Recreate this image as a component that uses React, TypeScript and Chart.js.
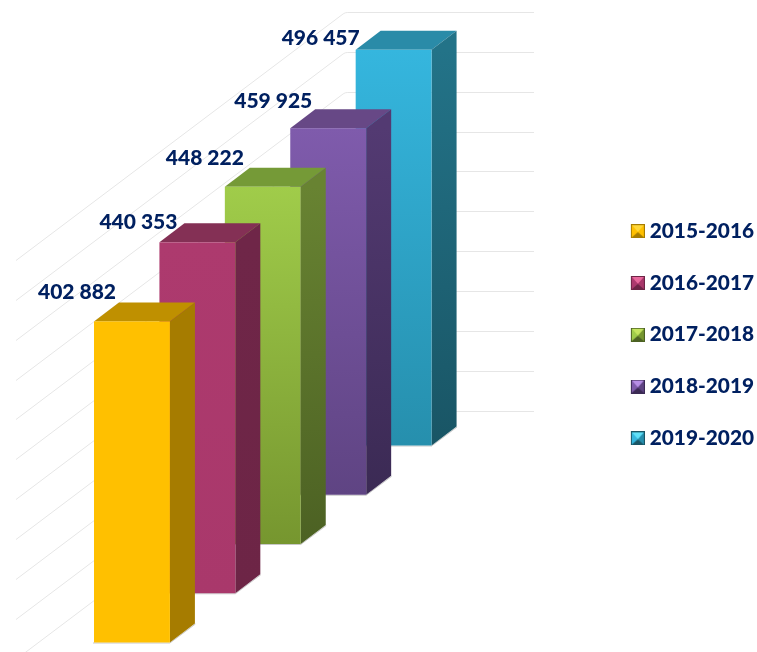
import React, { useEffect, useRef } from "react";
import { Chart, registerables } from "chart.js";

Chart.register(...registerables);

const seasons = ["2015-2016", "2016-2017", "2017-2018", "2018-2019", "2019-2020"];
const students = [402882, 440353, 448222, 459925, 496457];
const valueLabels = ["402 882", "440 353", "448 222", "459 925", "496 457"];
const categories = [""];
const gridValues = [0, 50000, 100000, 150000, 200000, 250000, 300000, 350000, 400000, 450000, 500000];

const frontTop = ["#FFC000", "#AD3A6E", "#A0CC4A", "#7F5BAC", "#35B6DE"];
const frontBottom = ["#FFC000", "#A9386B", "#76962F", "#5F4483", "#268FAD"];
const topFace = ["#BF9000", "#843055", "#759A37", "#674886", "#2A8BA8"];
const sideTop = ["#A67C00", "#6F2648", "#688332", "#533A72", "#237388"];
const sideBottom = ["#A67C00", "#6D2546", "#4C6123", "#3B2A54", "#195565"];
const iconLight = ["#FFD83A", "#E8689C", "#C4E45E", "#B78EE6", "#5FE0F8"];

const TEXT = "#002060";
const FONT = "Lato";
const SERIES_STEP = { x: 65.5, y: 49.25 };
const DEPTH = { x: 25, y: 19 };
const WALL = { cornerX: 345, rightX: 534, drop: 232, clipLeft: 16, clipBottom: 652 };
const LABEL_OFFSET = [
  [-17, -29],
  [-21, -20],
  [-20, -29],
  [-17, -27],
  [-35, -12],
];

function makeIcon(i: number) {
  const c = document.createElement("canvas");
  c.width = 20;
  c.height = 14;
  const g = c.getContext("2d")!;
  const x0 = 6, x1 = 20, y0 = 0, y1 = 14, cx = 13, cy = 7;
  const tri = (ax: number, ay: number, bx: number, by: number, col: string) => {
    g.fillStyle = col;
    g.beginPath();
    g.moveTo(ax, ay);
    g.lineTo(bx, by);
    g.lineTo(cx, cy + 1);
    g.closePath();
    g.fill();
  };
  g.fillStyle = frontTop[i];
  g.fillRect(x0, y0, 14, 14);
  tri(x0, y0, x1, y0, iconLight[i]);
  tri(x0, y0, x0, y1, frontTop[i]);
  tri(x1, y0, x1, y1, frontBottom[i]);
  tri(x0, y1, x1, y1, sideBottom[i]);
  g.strokeStyle = sideBottom[i];
  g.lineWidth = 1;
  g.strokeRect(x0 + 0.5, y0 + 0.5, 13, 13);
  return c;
}

const prism3d = {
  id: "prism3d",
  beforeDatasetsDraw(chart: any) {
    const { ctx, scales } = chart;

    ctx.save();
    ctx.beginPath();
    ctx.rect(WALL.clipLeft, 0, WALL.rightX, WALL.clipBottom);
    ctx.clip();
    ctx.strokeStyle = "#E6E6E6";
    ctx.lineWidth = 1;
    const slope = 248 / (WALL.cornerX - WALL.clipLeft);
    for (const tick of scales.y.ticks) {
      const wy = Math.round(scales.y.getPixelForValue(tick.value) - WALL.drop) + 0.5;
      const run = 400;
      ctx.beginPath();
      ctx.moveTo(WALL.cornerX - run, wy + run * slope);
      ctx.arcTo(WALL.cornerX, wy, WALL.rightX, wy, 7);
      ctx.lineTo(WALL.rightX, wy);
      ctx.stroke();
    }
    ctx.restore();

    for (let i = seasons.length - 1; i >= 0; i--) {
      const el = chart.getDatasetMeta(i).data[0];
      const shift = SERIES_STEP.y * i;
      const l = el.x - el.width / 2;
      const r = el.x + el.width / 2;
      const t = el.y - shift;
      const b = el.base - shift;
      const rr = r + DEPTH.x;

      const fg = ctx.createLinearGradient(0, t, 0, b);
      fg.addColorStop(0, frontTop[i]);
      fg.addColorStop(1, frontBottom[i]);
      const sg = ctx.createLinearGradient(0, t, 0, b);
      sg.addColorStop(0, sideTop[i]);
      sg.addColorStop(1, sideBottom[i]);

      // soft floor shadow
      ctx.strokeStyle = "rgba(0,0,0,0.22)";
      ctx.lineWidth = 1;
      ctx.beginPath();
      ctx.moveTo(l - 1, b + 0.5);
      ctx.lineTo(r, b + 0.5);
      ctx.lineTo(rr + 0.5, b - DEPTH.y + 0.5);
      ctx.stroke();

      ctx.fillStyle = topFace[i];
      ctx.beginPath();
      ctx.moveTo(l, t);
      ctx.lineTo(l + DEPTH.x, t - DEPTH.y);
      ctx.lineTo(rr, t - DEPTH.y);
      ctx.lineTo(r, t);
      ctx.closePath();
      ctx.fill();

      ctx.fillStyle = sg;
      ctx.beginPath();
      ctx.moveTo(r, t);
      ctx.lineTo(rr, t - DEPTH.y);
      ctx.lineTo(rr, b - DEPTH.y);
      ctx.lineTo(r, b);
      ctx.closePath();
      ctx.fill();

      ctx.fillStyle = fg;
      ctx.fillRect(l, t, r - l, b - t);
    }

    ctx.fillStyle = TEXT;
    ctx.font = `900 21px ${FONT}`;
    ctx.textAlign = "center";
    ctx.textBaseline = "middle";
    for (let i = 0; i < seasons.length; i++) {
      const el = chart.getDatasetMeta(i).data[0];
      const shift = SERIES_STEP.y * i;
      ctx.fillText(
        valueLabels[i],
        el.x - el.width / 2 + LABEL_OFFSET[i][0],
        el.y - shift + LABEL_OFFSET[i][1],
      );
    }
    return false;
  },
};

export default function App() {
  const ref = useRef<HTMLCanvasElement | null>(null);

  useEffect(() => {
    document.body.style.margin = "0";
    const icons = seasons.map((_, i) => makeIcon(i));
    const chart = new Chart(ref.current!, {
      type: "bar",
      data: {
        labels: categories,
        datasets: seasons.map((s, i) => ({
          label: s,
          data: [students[i]],
          backgroundColor: frontTop[i],
          categoryPercentage: 1,
          barPercentage: 76 / SERIES_STEP.x,
        })),
      },
      plugins: [prism3d],
      options: {
        responsive: false,
        animation: false,
        devicePixelRatio: 1,
        layout: { padding: { left: 99.25, top: 27, bottom: 9.5, right: -7 } },
        scales: {
          x: { display: false },
          y: {
            position: "right",
            min: 0,
            max: 772270,
            ticks: { display: false },
            grid: { display: false },
            border: { display: false },
            afterBuildTicks: (s: any) => {
              s.ticks = gridValues.map((value) => ({ value }));
            },
            afterFit: (s: any) => {
              s.width = 173;
            },
          },
        },
        plugins: {
          tooltip: { enabled: false },
          legend: {
            position: "right",
            labels: {
              usePointStyle: true,
              pointStyleWidth: 9,
              padding: 31,
              color: TEXT,
              font: { family: FONT, weight: "900", size: 20.8 },
              generateLabels: () =>
                seasons.map((s, i) => ({
                  text: s,
                  fillStyle: frontTop[i],
                  strokeStyle: frontTop[i],
                  fontColor: TEXT,
                  pointStyle: icons[i],
                  datasetIndex: i,
                  hidden: false,
                })),
            },
          },
        },
      } as any,
    });
    return () => chart.destroy();
  }, []);

  return (
    <div style={{ width: 757, height: 652 }}>
      <canvas ref={ref} width={757} height={652} style={{ display: "block" }} />
    </div>
  );
}
